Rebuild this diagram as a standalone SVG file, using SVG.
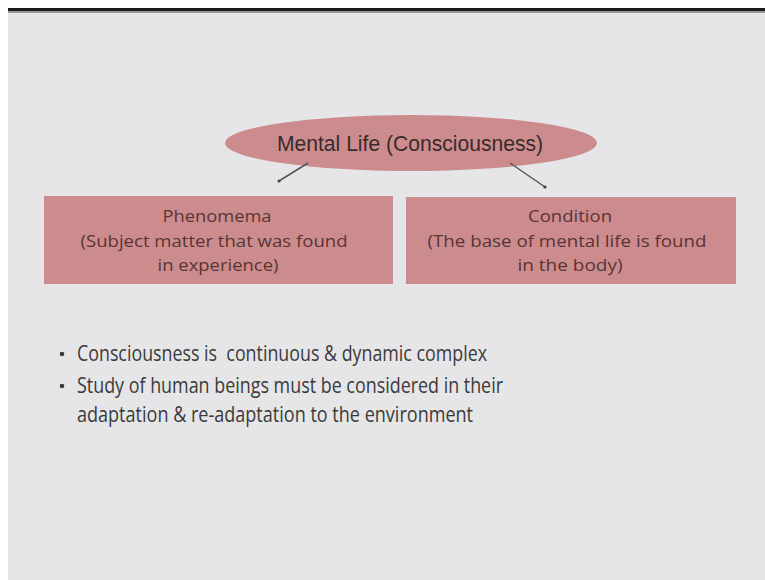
<svg xmlns="http://www.w3.org/2000/svg" width="765" height="580" viewBox="0 0 765 580">
<defs>
<style>
.box{fill:#cc8c8e;}
.bt{font-family:"Open Sans","Liberation Sans",sans-serif;font-size:17px;fill:#5a3434;text-anchor:middle;}
.bl{font-family:"Open Sans","Liberation Sans",sans-serif;font-size:21px;fill:#3a3a3a;}
.conn{stroke:#555;stroke-width:1.5;fill:none;marker-end:url(#dot);}
</style>
<marker id="dot" viewBox="0 0 4 4" refX="2" refY="2" markerWidth="4" markerHeight="4" markerUnits="userSpaceOnUse"><circle cx="2" cy="2" r="1.6" fill="#444"/></marker>
</defs>
<rect x="0" y="0" width="765" height="580" fill="#ffffff"/>
<rect x="8" y="10" width="757" height="570" fill="#e6e6e8"/>
<rect x="8" y="8" width="757" height="3" fill="#1a1a1a"/>
<rect x="8" y="11" width="757" height="2" fill="#9a9a9a"/>
<g id="root">
<ellipse cx="411" cy="143" rx="186" ry="28" fill="#cc8c8e"/>
<text x="410" y="151" font-family="'Liberation Sans',Arial,sans-serif" font-size="22" fill="#3a2a2a" text-anchor="middle" textLength="266" lengthAdjust="spacingAndGlyphs">Mental Life (Consciousness)</text>
</g>
<g id="connectors">
<line class="conn" x1="308" y1="163" x2="279" y2="181"/>
<line class="conn" x1="510" y1="163" x2="545" y2="187"/>
</g>
<g id="phenomena">
<rect class="box" x="44" y="196" width="349" height="88"/>
<text class="bt" x="217" y="222" textLength="109" lengthAdjust="spacingAndGlyphs">Phenomema</text>
<text class="bt" x="214" y="247" textLength="267" lengthAdjust="spacingAndGlyphs">(Subject matter that was found</text>
<text class="bt" x="218" y="271" textLength="121" lengthAdjust="spacingAndGlyphs">in experience)</text>
</g>
<g id="condition">
<rect class="box" x="406" y="197" width="330" height="87"/>
<text class="bt" x="570" y="222" textLength="84" lengthAdjust="spacingAndGlyphs">Condition</text>
<text class="bt" x="567" y="247" textLength="279" lengthAdjust="spacingAndGlyphs">(The base of mental life is found</text>
<text class="bt" x="570" y="271" textLength="105" lengthAdjust="spacingAndGlyphs">in the body)</text>
</g>
<g id="bullets">
<circle cx="62" cy="354" r="2.3" fill="#3a3a3a"/>
<circle cx="62" cy="386" r="2.3" fill="#3a3a3a"/>
<text class="bl" x="77" y="361" textLength="410" lengthAdjust="spacingAndGlyphs" xml:space="preserve">Consciousness is  continuous &amp; dynamic complex</text>
<text class="bl" x="77" y="393" textLength="426" lengthAdjust="spacingAndGlyphs">Study of human beings must be considered in their</text>
<text class="bl" x="77" y="422" textLength="396" lengthAdjust="spacingAndGlyphs">adaptation &amp; re-adaptation to the environment</text>
</g>
</svg>
